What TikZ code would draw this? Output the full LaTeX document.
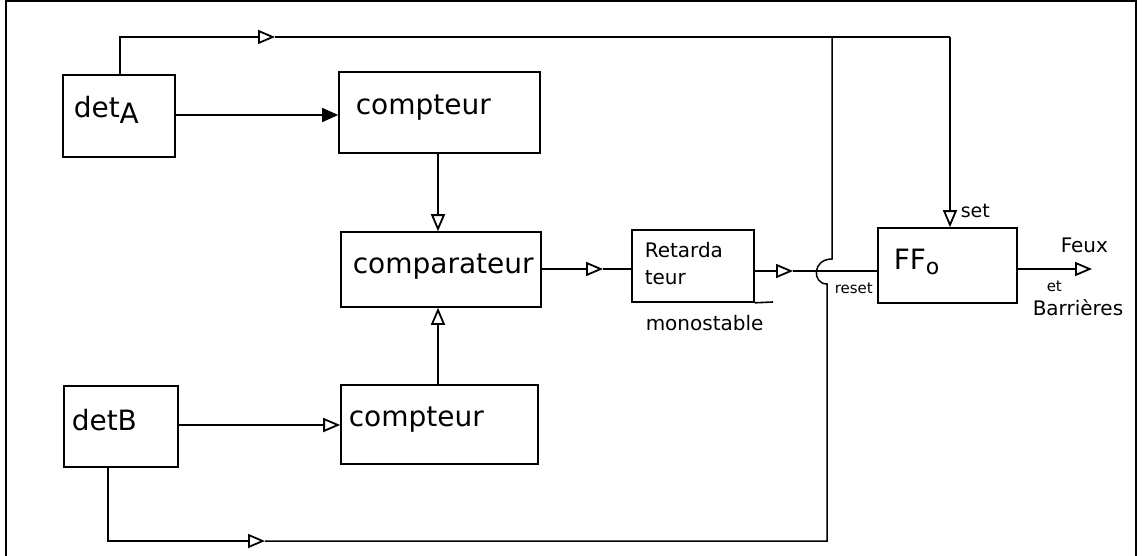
\documentclass[tikz,border=0pt]{standalone}
\usepackage{fontspec}
\setmainfont{DejaVu Sans}
\usetikzlibrary{arrows.meta}
\begin{document}
\begin{tikzpicture}[x=1pt,y=-1pt,line width=1.5pt,
  blk/.style={draw,rectangle,inner sep=0pt,line width=1.6pt},
  txt/.style={anchor=west,inner sep=0pt},
  big/.style={txt,font=\fontsize{28}{30}\selectfont},
  mid/.style={txt,font=\fontsize{20}{22}\selectfont},
  small/.style={txt,font=\fontsize{15}{16}\selectfont},
  otri/.style={-{Triangle[open,length=17pt,width=14pt,line width=1.8pt]}},
  ftri/.style={-{Triangle[length=16pt,width=14pt]}}]
\useasboundingbox (0,0) rectangle (1142,556);
% frame
\draw[line width=2pt] (6,556) -- (6,1) -- (1136,1) -- (1136,556);
% blocks
\node[blk,minimum width=112pt,minimum height=82pt] (detA) at (119,116) {};
\node[blk,minimum width=201pt,minimum height=81pt] (cA) at (439.5,112.5) {};
\node[blk,minimum width=200pt,minimum height=75pt] (comp) at (441,269.5) {};
\node[blk,minimum width=114pt,minimum height=81pt] (detB) at (121,426.5) {};
\node[blk,minimum width=197pt,minimum height=79pt] (cB) at (439.5,424.5) {};
\node[blk,minimum width=122pt,minimum height=72pt] (ret) at (693,266) {};
\node[blk,minimum width=139pt,minimum height=75pt] (ff) at (947.5,265.5) {};
\coordinate (retend) at (773,302);
\draw[line width=1.6pt] (ret.south east) -- (retend);
% texts
\node[big] (tA) at (73,110) {det\raisebox{-0.35ex}{A}};
\node[big] (tcA) at (355,108) {compteur};
\node[big] (tcomp) at (352,267) {comparateur};
\node[big] (tB) at (71,420) {detB};
\node[big] (tcB) at (348,420) {compteur};
\node[mid] (tret1) at (644,250) {Retarda};
\node[mid] (tret2) at (644,278) {teur};
\node[mid] (tmono) at (645,323) {monostable};
\node[big] (tff) at (893,262) {FF\raisebox{-0.3ex}{\fontsize{22}{24}\selectfont o}};
\node[txt,font=\fontsize{19}{20}\selectfont] (tset) at (960,211) {set};
\node[small] (treset) at (834,288) {reset};
\node[mid] (tfeux) at (1060,245) {Feux};
\node[small] (tet) at (1046,286) {et};
\node[mid] (tbar) at (1032,308) {Barrières};
% coordinates
\coordinate (tl) at (120,37);
\coordinate (ta) at (275,37);
\coordinate (tr) at (950,37);
\coordinate (bl) at (108,541);
\coordinate (ba) at (265,541);
\coordinate (br) at (827,541);
\coordinate (h1) at (827,284);
\coordinate (h2) at (832,259);
\coordinate (vt) at (832,37);
\coordinate (m1) at (603,269);
\coordinate (m2) at (793,271);
\coordinate (out) at (1092,269);
% connectors
\draw[otri] (detA.north -| tl) -- (tl) -- (ta);
\draw (ta) -- (tr);
\draw[otri] (tr) -- (tr |- ff.north);
\draw[ftri] (detA.east |- 0,115) -- (cA.west |- 0,115);
\draw[otri] (detB.east |- 0,425) -- (cB.west |- 0,425);
\draw[otri] (cA.south -| 438,0) -- (comp.north -| 438,0);
\draw[otri] (cB.north -| 438,0) -- (comp.south -| 438,0);
\draw[otri] (comp.east |- m1) -- (m1);
\draw (m1) -- (ret.west |- m1);
\draw[otri] (ret.east |- m2) -- (m2);
\draw (m2) -- (ff.west |- m2);
\draw[otri] (ff.east |- out) -- (out);
\draw[otri] (detB.south -| bl) -- (bl) -- (ba);
\draw (ba) -- (br) -- (h1) .. controls (812,284) and (812,259) .. (h2) -- (vt);
\end{tikzpicture}
\end{document}
